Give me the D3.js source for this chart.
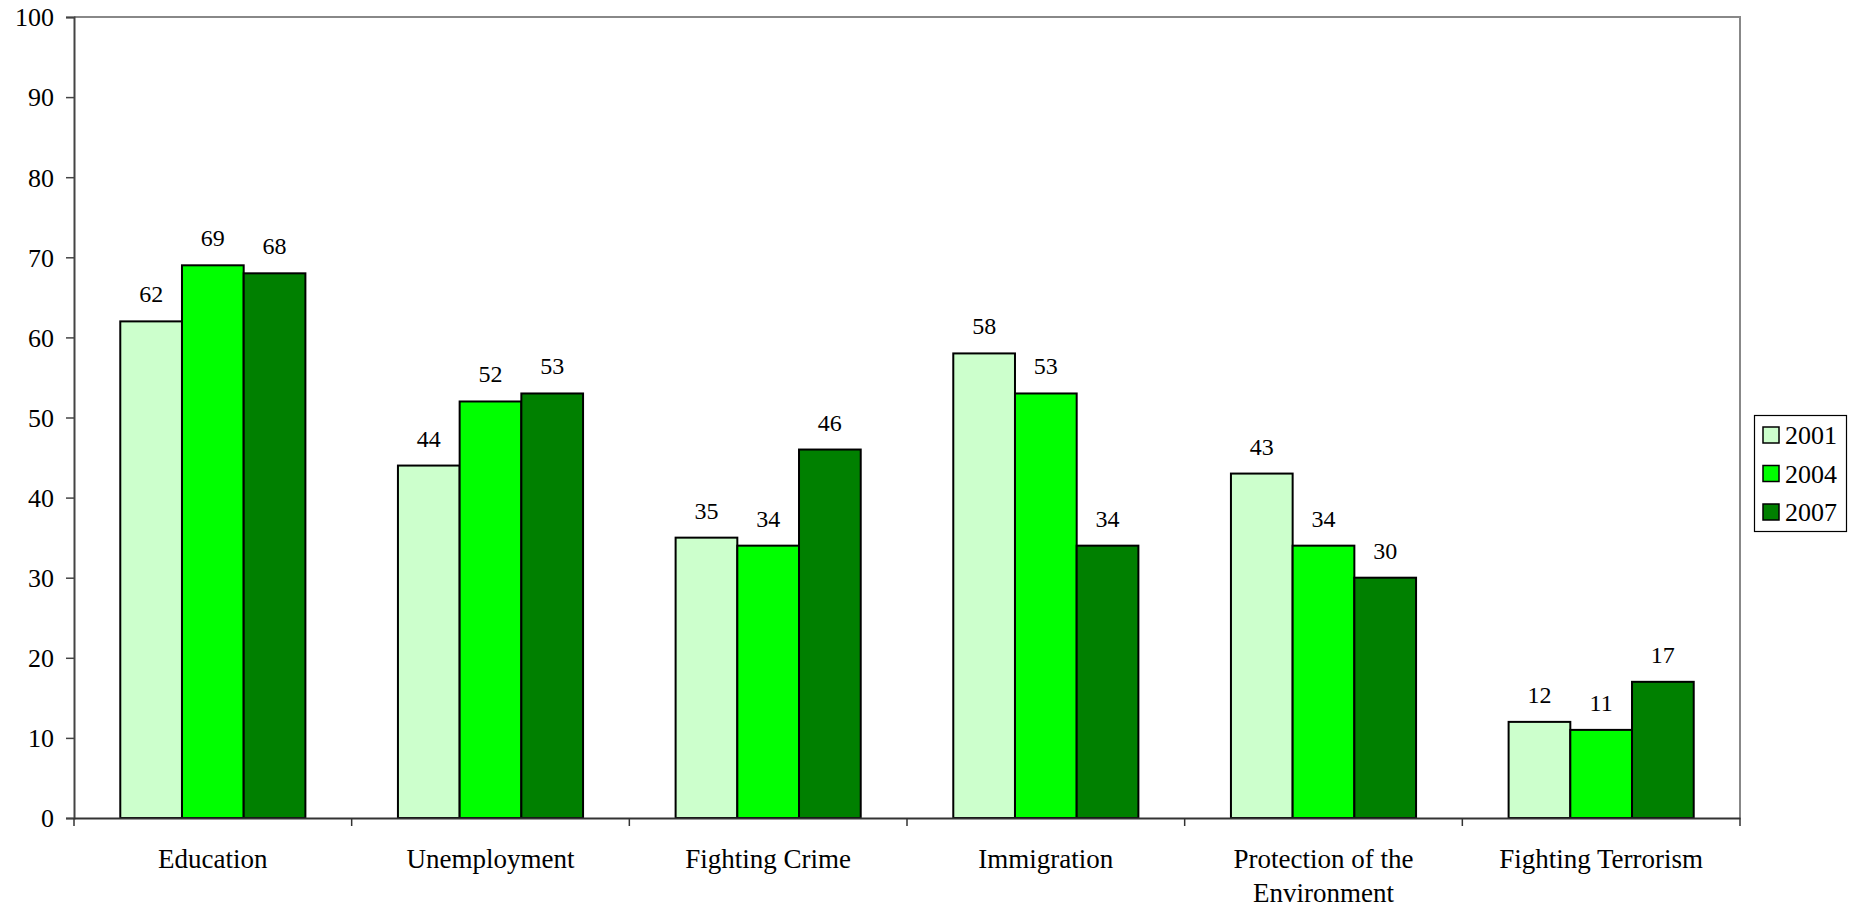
<!DOCTYPE html>
<html>
<head>
<meta charset="utf-8">
<script src="https://cdn.jsdelivr.net/npm/d3@7"></script>
<style>
  body { margin: 0; background: #fff; }
  svg text { font-family: "Liberation Serif", "Times New Roman", serif !important; fill: #000; }
</style>
</head>
<body>
<div id="chart"></div>
<script>
// data
var categories = ["Education", "Unemployment", "Fighting Crime", "Immigration", "Protection of the Environment", "Fighting Terrorism"];
var years = ["2001", "2004", "2007"];
var values2001 = [62, 44, 35, 58, 43, 12];
var values2004 = [69, 52, 34, 53, 34, 11];
var values2007 = [68, 53, 46, 34, 30, 17];
var yTicks = [0, 10, 20, 30, 40, 50, 60, 70, 80, 90, 100];
var colors = ["#ccffcc", "#00ff00", "#008000"];

var series = [values2001, values2004, values2007];

var svgWidth = 1852, svgHeight = 908;
// note: "top" is a reserved window global, so use plot* names
var plotLeft = 74, plotRight = 1740, plotTop = 17, plotBottom = 818;

var svg = d3.select("#chart").append("svg")
    .attr("width", svgWidth)
    .attr("height", svgHeight);

var y = d3.scaleLinear().domain([0, 100]).range([plotBottom, plotTop]);
var x = d3.scaleBand().domain(categories).range([plotLeft, plotRight]);
var bw = x.bandwidth();
var xSub = d3.scaleBand().domain(years).range([bw / 6, bw * 5 / 6]);

// plot border (top + right, grey)
svg.append("path")
    .attr("d", `M${plotLeft},${plotTop}H${plotRight}V${plotBottom}`)
    .style("fill", "none")
    .style("stroke", "#888")
    .style("stroke-width", 2);

// bars
var groups = svg.append("g")
    .selectAll("g")
    .data(categories)
    .enter().append("g")
    .attr("transform", d => `translate(${x(d)},0)`);

groups.selectAll("rect")
    .data((d, i) => years.map((yr, j) => ({ year: yr, value: series[j][i], color: colors[j] })))
    .enter().append("rect")
    .attr("x", d => xSub(d.year))
    .attr("y", d => y(d.value))
    .attr("width", xSub.bandwidth())
    .attr("height", d => y(0) - y(d.value))
    .style("fill", d => d.color)
    .style("stroke", "#000")
    .style("stroke-width", 2);

// value labels
groups.selectAll("text.val")
    .data((d, i) => years.map((yr, j) => ({ year: yr, value: series[j][i] })))
    .enter().append("text")
    .attr("class", "val")
    .attr("x", d => xSub(d.year) + xSub.bandwidth() / 2)
    .attr("y", d => y(d.value) - 19)
    .attr("text-anchor", "middle")
    .style("font-size", "24px")
    .text(d => d.value);

// y axis
var yAxis = svg.append("g")
    .attr("transform", `translate(${plotLeft},0)`)
    .call(d3.axisLeft(y).tickValues(yTicks).tickSize(8).tickPadding(12));
yAxis.attr("font-family", null);
yAxis.select(".domain").attr("stroke", "#444").attr("stroke-width", 2);
yAxis.selectAll(".tick line").attr("stroke", "#444").attr("stroke-width", 1.5);
yAxis.selectAll("text").style("font-size", "26px").attr("fill", "#000").attr("dy", "0.34em");

// x axis
var xAxis = svg.append("g")
    .attr("transform", `translate(0,${plotBottom})`)
    .call(d3.axisBottom(x).tickValues([]).tickSizeOuter(0));
xAxis.select(".domain").attr("stroke", "#333").attr("stroke-width", 2);
xAxis.selectAll("line.sep")
    .data(d3.range(categories.length + 1))
    .enter().append("line")
    .attr("class", "sep")
    .attr("x1", i => plotLeft + i * bw)
    .attr("x2", i => plotLeft + i * bw)
    .attr("y1", 0)
    .attr("y2", 8)
    .attr("stroke", "#333")
    .attr("stroke-width", 1.5);

// category labels (wrap the long one)
var catLabel = svg.append("g")
    .selectAll("text")
    .data(categories)
    .enter().append("text")
    .attr("x", d => x(d) + bw / 2)
    .attr("y", 868)
    .attr("text-anchor", "middle")
    .style("font-size", "27px");

catLabel.each(function(d) {
    var lines = d === "Protection of the Environment" ? ["Protection of the", "Environment"] : [d];
    d3.select(this).selectAll("tspan")
        .data(lines)
        .enter().append("tspan")
        .attr("x", x(d) + bw / 2)
        .attr("dy", (l, i) => i === 0 ? 0 : 34)
        .text(l => l);
});

// legend
var legend = svg.append("g");
legend.append("rect")
    .attr("x", 1754.5)
    .attr("y", 415.5)
    .attr("width", 92)
    .attr("height", 116)
    .style("fill", "#fff")
    .style("stroke", "#000")
    .style("stroke-width", 1.2);

var rowY = d3.scalePoint().domain(years).range([435, 512]);
var item = legend.selectAll("g.item")
    .data(years)
    .enter().append("g")
    .attr("class", "item");

item.append("rect")
    .attr("x", 1763)
    .attr("y", d => rowY(d) - 8)
    .attr("width", 16)
    .attr("height", 16)
    .style("fill", (d, i) => colors[i])
    .style("stroke", "#000")
    .style("stroke-width", 1.5);

item.append("text")
    .attr("x", 1785)
    .attr("y", d => rowY(d) + 9)
    .style("font-size", "26px")
    .text(d => d);
</script>
</body>
</html>
